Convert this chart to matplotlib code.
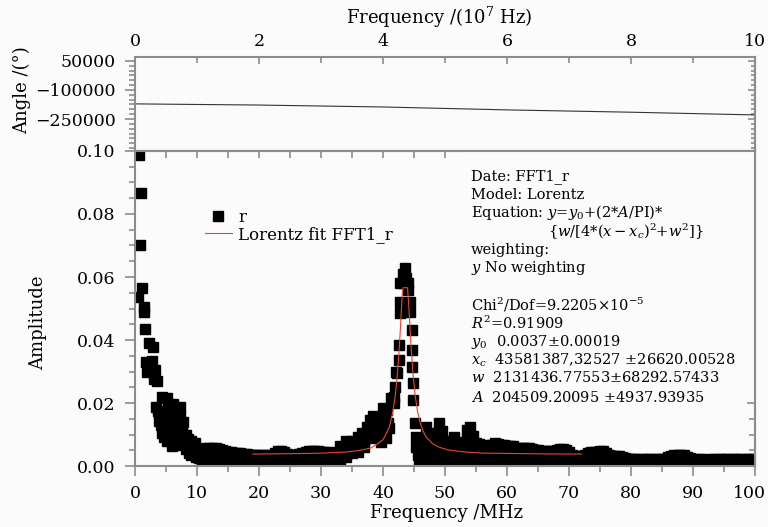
import matplotlib.pyplot as plt
from matplotlib.ticker import MultipleLocator
from matplotlib.patches import Rectangle
from matplotlib.transforms import ScaledTranslation

plt.rcParams['font.family'] = ['DejaVu Serif']
plt.rcParams['mathtext.fontset'] = 'dejavuserif'

# ---- data ----
# phase panel (top axis in units of 10^7 Hz)
angle_freq = [0, 2, 4, 6, 8, 10]
angle_deg = [-172000, -178000, -188000, -203000, -215000, -229000]

# measured amplitude spectrum, (MHz, amplitude) pairs per region
decay = [
    (0.6, 0.0987), (0.97, 0.0866), (0.8, 0.0702), (1.13, 0.0564), (0.48, 0.0537),
    (1.37, 0.0505), (1.45, 0.0490), (1.56, 0.0435), (2.2, 0.0390), (2.85, 0.0378),
    (1.77, 0.0331), (2.7, 0.0334), (1.9, 0.0300), (3.2, 0.0305), (3.05, 0.0275),
    (3.6, 0.0270), (4.3, 0.0220), (5.1, 0.0215), (3.4, 0.0186), (6.2, 0.0197),
    (7.3, 0.0186), (3.9, 0.0165), (3.9, 0.0144), (5.6, 0.0167), (7.8, 0.0140),
    (4.2, 0.0130), (5.0, 0.0135), (4.6, 0.0120), (6.2, 0.0120), (6.5, 0.0105),
    (5.4, 0.0095), (6.8, 0.0095), (7.5, 0.0092), (8.5, 0.0085), (5.9, 0.0073),
    (7.0, 0.0067), (8.0, 0.0075), (9.7, 0.0072), (8.2, 0.0055), (8.8, 0.0060),
    (9.3, 0.0048), (10.0, 0.0045), (9.0, 0.0035), (10.3, 0.0025), (10.8, 0.0012),
    (4.7, 0.0093), (5.2, 0.0078), (6.0, 0.0065), (3.7, 0.0175), (4.5, 0.0160),
    (5.3, 0.0180), (6.0, 0.0150), (6.7, 0.0175), (7.2, 0.0160), (7.6, 0.0120),
    (8.3, 0.0100), (9.0, 0.0080), (9.5, 0.0060), (4.4, 0.0105), (5.7, 0.0110),
    (7.9, 0.0100), (8.7, 0.0040), (9.9, 0.0030),
]
floor = [
    (10.5, 0.0050), (11, 0.0054), (11.5, 0.0056), (12, 0.0058), (12.5, 0.0057),
    (13, 0.0058), (13.5, 0.0055), (14, 0.0052), (14.5, 0.0048), (15, 0.0046),
    (15.5, 0.0044), (16, 0.0042), (16.5, 0.0041), (17, 0.0041), (17.5, 0.0039),
    (18, 0.0038), (18.5, 0.0036), (19, 0.0035), (19.5, 0.0036), (20, 0.0035),
    (20.5, 0.0034), (21, 0.0033), (21.5, 0.0034), (22, 0.0036), (22.5, 0.0040),
    (23, 0.0047), (23.5, 0.0047), (24, 0.0044), (24.5, 0.0038), (25, 0.0035),
    (25.5, 0.0034), (26, 0.0034), (26.5, 0.0038), (27, 0.0042), (27.5, 0.0045),
    (28, 0.0047), (28.5, 0.0048), (29, 0.0048), (29.5, 0.0047), (30, 0.0046),
    (30.5, 0.0045), (31, 0.0044), (31.5, 0.0040), (32, 0.0036), (32.5, 0.0045),
    (10.75, 0.0013), (11.25, 0.0016), (11.75, 0.0014), (12.25, 0.0017),
    (12.75, 0.0012), (13.25, 0.0015), (13.75, 0.0018), (14.25, 0.0013),
    (14.75, 0.0016), (15.25, 0.0014), (15.75, 0.0017), (16.25, 0.0013),
    (16.75, 0.0015), (17.25, 0.0016), (17.75, 0.0012), (18.25, 0.0014),
    (18.75, 0.0017), (19.25, 0.0015), (19.75, 0.0013), (20.25, 0.0016),
    (20.75, 0.0014), (21.25, 0.0012), (21.75, 0.0015), (22.25, 0.0017),
    (22.75, 0.0013), (23.25, 0.0016), (23.75, 0.0014), (24.25, 0.0015),
    (24.75, 0.0012), (25.25, 0.0016), (25.75, 0.0014), (26.25, 0.0017),
    (26.75, 0.0013), (27.25, 0.0015), (27.75, 0.0016), (28.25, 0.0014),
    (28.75, 0.0012), (29.25, 0.0015), (29.75, 0.0017), (30.25, 0.0013),
    (30.75, 0.0016), (31.25, 0.0014), (31.75, 0.0012), (32.25, 0.0015),
    (32.75, 0.0017),
    (11, 0.0032), (12, 0.0035), (13, 0.0033), (14, 0.0030), (23, 0.0030),
    (24, 0.0029), (27.5, 0.0028), (28.5, 0.0030), (29.5, 0.0029), (30.5, 0.0028),
]
rise = [
    (33.0, 0.0062), (33.0, 0.0040), (33.0, 0.0017), (34.0, 0.0078), (34.0, 0.0052),
    (34.0, 0.0030), (35.0, 0.0080), (35.0, 0.0058), (35.0, 0.0040), (36.0, 0.0092),
    (36.0, 0.0060), (36.0, 0.0045), (36.6, 0.0106), (37.0, 0.0080), (37.0, 0.0060),
    (37.4, 0.0125), (37.9, 0.0146), (38.0, 0.0090), (38.4, 0.0158), (38.9, 0.0125),
    (39.5, 0.0150), (39.5, 0.0100), (39.6, 0.0075), (40.0, 0.0183), (40.2, 0.0120),
    (40.3, 0.0152), (40.5, 0.0090), (40.6, 0.0178), (40.8, 0.0138), (41.0, 0.0120),
]
peak = [
    (41.3, 0.0216), (41.7, 0.0220), (41.7, 0.0200), (41.9, 0.0252), (42.1, 0.0300),
    (42.2, 0.0294), (42.5, 0.0337), (42.5, 0.0384), (42.7, 0.0485), (42.7, 0.0522),
    (42.9, 0.0490), (43.0, 0.0516), (43.3, 0.0580), (43.3, 0.0610), (42.7, 0.0580),
    (43.5, 0.0627), (43.7, 0.0596), (44.1, 0.0580), (44.1, 0.0558), (44.35, 0.0522),
    (44.35, 0.0490), (44.6, 0.0432), (44.6, 0.0368), (44.6, 0.0315), (44.8, 0.0262),
    (44.9, 0.0210), (45.2, 0.0136), (45.4, 0.0093), (45.4, 0.0061),
]
tail = [
    (45.6, 0.0035), (45.8, 0.0015),
    (46.0, 0.0060), (46.0, 0.0035), (46.0, 0.0015),
    (46.5, 0.0090), (46.5, 0.0060), (46.5, 0.0030),
    (47.0, 0.0125), (47.0, 0.0095), (47.0, 0.0065), (47.0, 0.0035), (47.0, 0.0015),
    (47.5, 0.0100), (47.5, 0.0070), (47.5, 0.0040), (47.5, 0.0015),
    (48.0, 0.0077), (48.0, 0.0050), (48.0, 0.0020),
    (48.5, 0.0105), (48.5, 0.0075), (48.5, 0.0045), (48.5, 0.0015),
    (49.0, 0.0136), (49.0, 0.0110), (49.0, 0.0080), (49.0, 0.0050), (49.0, 0.0020),
    (49.5, 0.0110), (49.5, 0.0080), (49.5, 0.0050), (49.5, 0.0015),
    (50.0, 0.0080), (50.0, 0.0050), (50.0, 0.0020),
    (50.5, 0.0065), (50.5, 0.0040), (50.5, 0.0015),
    (51.0, 0.0080), (51.0, 0.0050), (51.0, 0.0020),
    (51.5, 0.0093), (51.5, 0.0065), (51.5, 0.0035), (51.5, 0.0015),
    (52.0, 0.0070), (52.0, 0.0045), (52.0, 0.0015),
    (52.5, 0.0060), (52.5, 0.0035), (52.5, 0.0015),
    (53.0, 0.0075), (53.0, 0.0045), (53.0, 0.0020),
    (53.5, 0.0115), (53.5, 0.0085), (53.5, 0.0055), (53.5, 0.0025),
    (54.0, 0.0125), (54.0, 0.0095), (54.0, 0.0065), (54.0, 0.0035), (54.0, 0.0015),
    (54.5, 0.0095), (54.5, 0.0065), (54.5, 0.0035), (54.5, 0.0015),
    (55.0, 0.0072), (55.0, 0.0045), (55.0, 0.0015),
    (55.5, 0.0070), (55.5, 0.0042), (55.5, 0.0015),
    (56.0, 0.0064), (56.0, 0.0038), (56.0, 0.0015),
    (56.5, 0.0068), (56.5, 0.0040), (56.5, 0.0015),
    (57.0, 0.0065), (57.0, 0.0038), (57.0, 0.0015),
    (57.5, 0.0068), (57.5, 0.0040), (57.5, 0.0015),
    (58.0, 0.0072), (58.0, 0.0045), (58.0, 0.0018),
    (58.5, 0.0070), (58.5, 0.0042), (58.5, 0.0015),
    (59.0, 0.0068), (59.0, 0.0040), (59.0, 0.0015),
    (59.5, 0.0066), (59.5, 0.0038), (59.5, 0.0015),
    (60.0, 0.0064), (60.0, 0.0038), (60.0, 0.0015),
]
mid = [
    (60.5, 0.0065), (60.5, 0.0035), (60.75, 0.0014), (61.0, 0.0062), (61.0, 0.0032),
    (61.25, 0.0016), (61.5, 0.0058), (61.5, 0.0030), (61.75, 0.0013), (62.0, 0.0058),
    (62.0, 0.0033), (62.25, 0.0015), (62.5, 0.0057), (62.5, 0.0030), (62.75, 0.0017),
    (63.0, 0.0057), (63.0, 0.0031), (63.25, 0.0014), (63.5, 0.0056), (63.5, 0.0029),
    (63.75, 0.0016), (64.0, 0.0055), (64.0, 0.0032), (64.25, 0.0013), (64.5, 0.0052),
    (64.5, 0.0030), (64.75, 0.0015), (65.0, 0.0050), (65.0, 0.0028), (65.25, 0.0016),
    (65.5, 0.0049), (65.5, 0.0030), (65.75, 0.0014), (66.0, 0.0048), (66.0, 0.0029),
    (66.25, 0.0016), (66.5, 0.0048), (66.5, 0.0031), (66.75, 0.0013), (67.0, 0.0047),
    (67.0, 0.0028), (67.25, 0.0015), (67.5, 0.0048), (67.5, 0.0030), (67.75, 0.0016),
    (68.0, 0.0052), (68.0, 0.0031), (68.25, 0.0014), (68.5, 0.0054), (68.5, 0.0030),
    (68.75, 0.0016), (69.0, 0.0054), (69.0, 0.0029), (69.25, 0.0013), (69.5, 0.0052),
    (69.5, 0.0031), (69.75, 0.0015), (70.0, 0.0045), (70.0, 0.0028), (70.25, 0.0016),
    (70.5, 0.0034), (70.75, 0.0014), (71.0, 0.0032), (71.25, 0.0016), (71.5, 0.0032),
    (71.75, 0.0013), (72.0, 0.0033), (72.25, 0.0015), (72.5, 0.0034), (72.75, 0.0016),
    (73.0, 0.0042), (73.0, 0.0028), (73.25, 0.0014), (73.5, 0.0045), (73.5, 0.0029),
    (73.75, 0.0016), (74.0, 0.0046), (74.0, 0.0030), (74.25, 0.0013), (74.5, 0.0045),
    (74.5, 0.0028), (74.75, 0.0015), (75.0, 0.0047), (75.0, 0.0029), (75.25, 0.0016),
]
high = [
    (75.5, 0.0048), (75.5, 0.0028), (75.75, 0.0014), (76.0, 0.0040), (76.25, 0.0016),
    (76.5, 0.0034), (76.75, 0.0013), (77.0, 0.0032), (77.25, 0.0015), (77.5, 0.0032),
    (77.75, 0.0016), (78.0, 0.0033), (78.25, 0.0014), (78.5, 0.0030), (78.75, 0.0016),
    (79.0, 0.0026), (79.25, 0.0013), (79.5, 0.0022), (79.75, 0.0015), (80.0, 0.0021),
    (80.25, 0.0016), (80.5, 0.0022), (80.75, 0.0014), (81.0, 0.0021), (81.25, 0.0016),
    (81.5, 0.0020), (81.75, 0.0013), (82.0, 0.0021), (82.25, 0.0015), (82.5, 0.0022),
    (82.75, 0.0016), (83.0, 0.0021), (83.25, 0.0014), (83.5, 0.0020), (83.75, 0.0016),
    (84.0, 0.0021), (84.25, 0.0013), (84.5, 0.0022), (84.75, 0.0015), (85.0, 0.0021),
    (85.25, 0.0016), (85.5, 0.0023), (85.75, 0.0014), (86.0, 0.0028), (86.25, 0.0016),
    (86.5, 0.0032), (86.75, 0.0018), (87.0, 0.0034), (87.25, 0.0019), (87.5, 0.0035),
    (87.75, 0.0020), (88.0, 0.0035), (88.25, 0.0021), (88.5, 0.0034), (88.75, 0.0018),
    (89.0, 0.0030), (89.25, 0.0016), (89.5, 0.0024), (89.75, 0.0014), (90.0, 0.0021),
    (90.25, 0.0016), (90.5, 0.0020), (90.75, 0.0013), (91.0, 0.0021), (91.25, 0.0015),
    (91.5, 0.0022), (91.75, 0.0016), (92.0, 0.0020), (92.25, 0.0014), (92.5, 0.0019),
    (92.75, 0.0016), (93.0, 0.0021), (93.25, 0.0013), (93.5, 0.0022), (93.75, 0.0015),
    (94.0, 0.0020), (94.25, 0.0016), (94.5, 0.0021), (94.75, 0.0014), (95.0, 0.0022),
    (95.25, 0.0016), (95.5, 0.0021), (95.75, 0.0013), (96.0, 0.0020), (96.25, 0.0015),
    (96.5, 0.0022), (96.75, 0.0016), (97.0, 0.0023), (97.25, 0.0014), (97.5, 0.0021),
    (97.75, 0.0016), (98.0, 0.0020), (98.25, 0.0013), (98.5, 0.0022), (98.75, 0.0015),
    (99.0, 0.0021), (99.25, 0.0016), (99.5, 0.0022), (99.75, 0.0014),
]

# Lorentz fit curve as drawn (MHz, amplitude)
fit_freq = [19, 25, 30, 34, 36, 38, 39, 40, 40.5, 41, 41.5, 41.9, 42.2, 42.5,
            42.8, 43.1, 43.25, 43.95, 44.2, 44.5, 44.8, 45.2, 45.6, 46, 46.5,
            47, 48, 49, 50.5, 53, 56, 60, 66, 72]
fit_amp = [0.00381, 0.00392, 0.00407, 0.00445, 0.00489, 0.00571, 0.00684,
           0.00838, 0.0102, 0.0123, 0.0164, 0.0212, 0.0265, 0.0338, 0.0435,
           0.0545, 0.0566, 0.0566, 0.0493, 0.0387, 0.0302, 0.0221, 0.0170,
           0.0137, 0.0109, 0.0091, 0.0071, 0.0060, 0.0051, 0.0045, 0.0041,
           0.0040, 0.00384, 0.0038]

fit_lines = [
    'Date: FFT1_r',
    'Model: Lorentz',
    r'Equation: $y$=$y_0$+(2*$A$/PI)*',
    r'{$w$/[4*($x-x_c$)$^2$+$w^2$]}',
    'weighting:',
    r'$y$ No weighting',
    r'Chi$^2$/Dof=9.2205$\times$10$^{-5}$',
    r'$R^2$=0.91909',
    r'$y_0$  0.0037$\pm$0.00019',
    r'$x_c$  43581387,32527 $\pm$26620.00528',
    r'$w$  2131436.77553$\pm$68292.57433',
    r'$A$  204509.20095 $\pm$4937.93935',
]

points = decay + floor + rise + peak + tail + mid + high
freq = [p[0] for p in points]
amp = [p[1] for p in points]

bg = '#fbfbfb'
grey = '#8c8c8c'
red = '#e8452f'

fig = plt.figure(figsize=(7.68, 5.27), dpi=100)
fig.patch.set_facecolor(bg)
ax1 = fig.add_axes([0.1758, 0.7135, 0.8073, 0.1784])
ax2 = fig.add_axes([0.1758, 0.1157, 0.8073, 0.5978])

for ax in (ax1, ax2):
    ax.set_facecolor(bg)
    for sp in ax.spines.values():
        sp.set_color(grey)
        sp.set_linewidth(1.5)
        sp.set_zorder(3)

# ---- top panel: angle ----
ax1.plot(angle_freq, angle_deg, color='#333333', lw=0.8)
ax1.set_xlim(0, 10)
ax1.set_ylim(-415000, 70000)
ax1.xaxis.tick_top()
ax1.xaxis.set_major_locator(MultipleLocator(2))
ax1.xaxis.set_minor_locator(MultipleLocator(1))
ax1.tick_params(axis='x', which='both', top=True, bottom=False, direction='in',
                color=grey, width=1.2, labelsize=12.5, pad=5)
ax1.tick_params(axis='x', which='major', length=5)
ax1.tick_params(axis='x', which='minor', length=4)
ax1.set_yticks([50000, -100000, -250000])
ax1.set_yticklabels(['50000', '\u2212100000', '\u2212250000'])
ax1.yaxis.set_minor_locator(MultipleLocator(25000))
ax1.tick_params(axis='y', which='both', left=True, right=False, direction='out',
                color=grey, width=1.2, labelsize=12.5, pad=7)
ax1.tick_params(axis='y', which='major', length=7)
ax1.tick_params(axis='y', which='minor', length=4)
r1 = ax1.secondary_yaxis('right')
r1.set_yticks([50000, -100000, -250000])
r1.yaxis.set_minor_locator(MultipleLocator(25000))
r1.tick_params(axis='y', which='both', direction='in', color=grey, width=1.2,
               labelright=False)
r1.tick_params(axis='y', which='major', length=5)
r1.tick_params(axis='y', which='minor', length=3)
r1.spines['right'].set_color(grey)
r1.spines['right'].set_linewidth(1.5)

# ---- bottom panel: amplitude ----
ax2.plot(freq, amp, 's', color='black', ms=6.5, linestyle='none', label='r',
         zorder=2)
ax2.plot(fit_freq, fit_amp, color=red, lw=0.8, label='Lorentz fit FFT1_r',
         zorder=2.2)
ax2.set_xlim(0, 100)
ax2.set_ylim(0, 0.10)
ax2.set_xticks(range(0, 101, 10))
ax2.xaxis.set_minor_locator(MultipleLocator(5))
ax2.yaxis.set_major_locator(MultipleLocator(0.02))
ax2.yaxis.set_minor_locator(MultipleLocator(0.005))
ax2.yaxis.set_major_formatter(plt.FormatStrFormatter('%.2f'))
ax2.tick_params(which='both', direction='out', color=grey, width=1.2,
                labelsize=12.5, pad=7, top=False, right=False)
ax2.tick_params(which='major', length=7)
ax2.tick_params(which='minor', length=4)
last = ax2.get_xticklabels()[-1]
last.set_transform(last.get_transform() +
                   ScaledTranslation(-4 / 72, 0, fig.dpi_scale_trans))

t2 = ax2.secondary_xaxis('top')
t2.xaxis.set_major_locator(MultipleLocator(10))
t2.xaxis.set_minor_locator(MultipleLocator(5))
t2.tick_params(axis='x', which='both', direction='in', length=5, color=grey,
               width=1.2, labeltop=False)
t2.spines['top'].set_color(grey)
t2.spines['top'].set_linewidth(1.5)
r2 = ax2.secondary_yaxis('right')
r2.yaxis.set_major_locator(MultipleLocator(0.02))
r2.yaxis.set_minor_locator(MultipleLocator(0.005))
r2.tick_params(axis='y', which='both', direction='in', color=grey, width=1.2,
               labelright=False)
r2.tick_params(axis='y', which='major', length=6)
r2.tick_params(axis='y', which='minor', length=4)
r2.spines['right'].set_color(grey)
r2.spines['right'].set_linewidth(1.5)

# backdrop of the fit report hides the inner right ticks
ax2.add_patch(Rectangle((0.53, 0.205), 0.468, 0.793, transform=ax2.transAxes,
                        facecolor=bg, edgecolor='none', zorder=2.6))

leg = ax2.legend(loc='upper left', bbox_to_anchor=(0.113, 0.815), frameon=False,
                 fontsize=12, handlelength=1.6, handletextpad=0.4,
                 labelspacing=0.0, borderpad=0, borderaxespad=0)

line_y = [177, 195, 213, 232, 250, 268, 305, 323, 342, 360, 378, 397]
for i, (txt, yp) in enumerate(zip(fit_lines, line_y)):
    xp = 548 if i == 3 else 471
    fig.text(xp / 768, 1 - yp / 527, txt, fontsize=10.5, ha='left',
             va='center', zorder=4)

fig.text(439 / 768, 1 - 17 / 527, r'Frequency /(10$^7$ Hz)', fontsize=13,
         ha='center', va='center')
fig.text(446 / 768, 1 - 513 / 527, 'Frequency /MHz', fontsize=13,
         ha='center', va='center')
fig.text(22 / 768, 1 - 90 / 527, 'Angle /(°)', fontsize=13, rotation=90,
         ha='center', va='center')
fig.text(38 / 768, 1 - 323 / 527, 'Amplitude', fontsize=13, rotation=90,
         ha='center', va='center')

fig.savefig('out.png', dpi=100, facecolor=bg)
